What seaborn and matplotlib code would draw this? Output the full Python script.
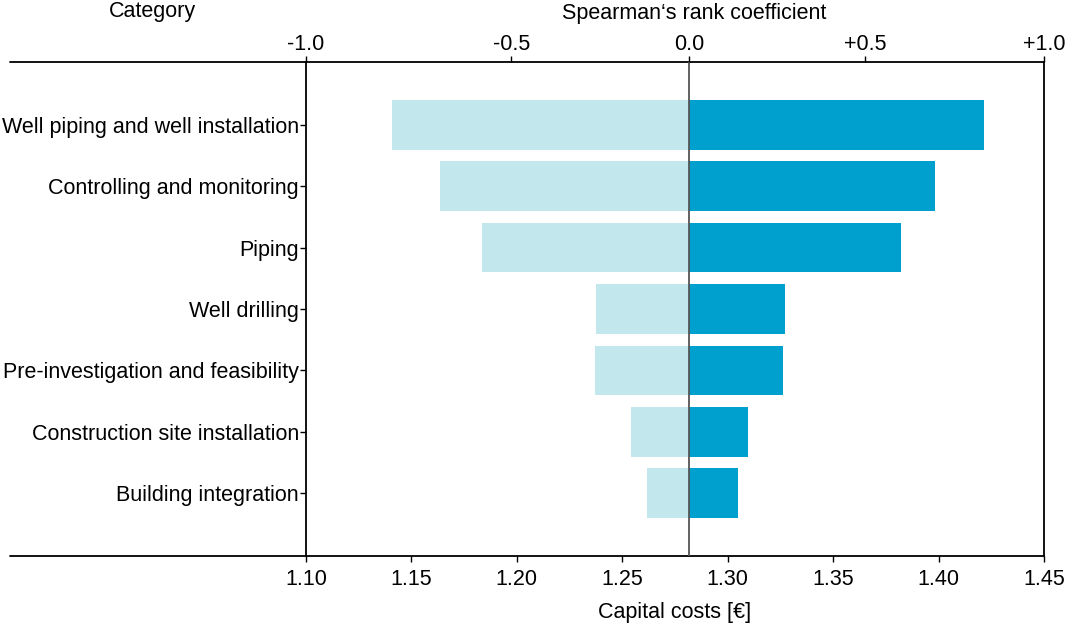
import numpy as np
import pandas as pd
import matplotlib
matplotlib.use("Agg")
import matplotlib.pyplot as plt
import seaborn as sns

categories = ["Well piping and well installation", "Controlling and monitoring", "Piping",
              "Well drilling", "Pre-investigation and feasibility",
              "Construction site installation", "Building integration"]
low_costs = [1.1408, 1.1635, 1.1834, 1.2375, 1.2370, 1.2541, 1.2617]
high_costs = [1.4215, 1.3982, 1.3821, 1.3271, 1.3261, 1.3096, 1.3048]
base_cost = 1.2817

cost_ticks = [1.10, 1.15, 1.20, 1.25, 1.30, 1.35, 1.40, 1.45]
spearman_labels = ["-1.0", "-0.5", "0.0", "+0.5", "+1.0"]
spearman_pos = [1.10, 1.1973, 1.2817, 1.3652, 1.45]

light = "#C2E8EE"
dark = "#00A0CE"
fs = 15.5

sns.set_theme(style="white")
plt.rcParams['font.family'] = ['Liberation Sans', 'DejaVu Sans']
plt.rcParams['text.color'] = 'black'
plt.rcParams['xtick.color'] = 'black'
plt.rcParams['ytick.color'] = 'black'
plt.rcParams['axes.labelcolor'] = 'black'

df = pd.DataFrame({"category": categories,
                   "low": np.array(low_costs) - base_cost,
                   "high": np.array(high_costs) - base_cost})

fig = plt.figure(figsize=(10.65, 6.28), dpi=100)
ax = fig.add_axes([0.2873, 0.1146, 0.693, 0.7867])

sns.barplot(data=df, x="low", y="category", orient="h", color=light, saturation=1,
            width=0.81, left=base_cost, linewidth=0, ax=ax)
sns.barplot(data=df, x="high", y="category", orient="h", color=dark, saturation=1,
            width=0.81, left=base_cost, linewidth=0, ax=ax)

ax.axvline(base_cost, color="#555555", lw=1.3, zorder=5)
ax.set_xlim(1.10, 1.45)
ax.set_ylim(len(categories) - 1 + 1.02, -1.02)
ax.set_xticks(cost_ticks)
ax.set_xticklabels([f"{t:.2f}" for t in cost_ticks], fontsize=fs)
ax.tick_params(axis="y", labelsize=fs, left=True, length=4, width=1, pad=1)
ax.tick_params(axis="x", bottom=True, length=4, width=1, pad=5)
ax.set_ylabel("")
ax.set_xlabel("Capital costs [€]", fontsize=fs, labelpad=9)
for s in ax.spines.values():
    s.set_color("black")
    s.set_linewidth(1.3)

# top axis: Spearman coefficient
top = ax.twiny()
top.set_xlim(ax.get_xlim())
top.set_xticks(spearman_pos)
top.set_xticklabels(spearman_labels, fontsize=fs)
top.tick_params(axis="x", top=True, length=4, width=1, pad=1)
for s in top.spines.values():
    s.set_visible(False)

# extend top and bottom rules to the left edge
for yy in (0, 1):
    ax.plot([-0.401, 0], [yy, yy], transform=ax.transAxes, color="black", lw=1.3, clip_on=False)

fig.text(152 / 1065, 1 - 12 / 628, "Category", ha="center", va="center", fontsize=fs)
fig.text(694 / 1065, 1 - 13 / 628, "Spearman\u2018s rank coefficient", ha="center", va="center", fontsize=fs)

fig.savefig("out.png", dpi=100)
